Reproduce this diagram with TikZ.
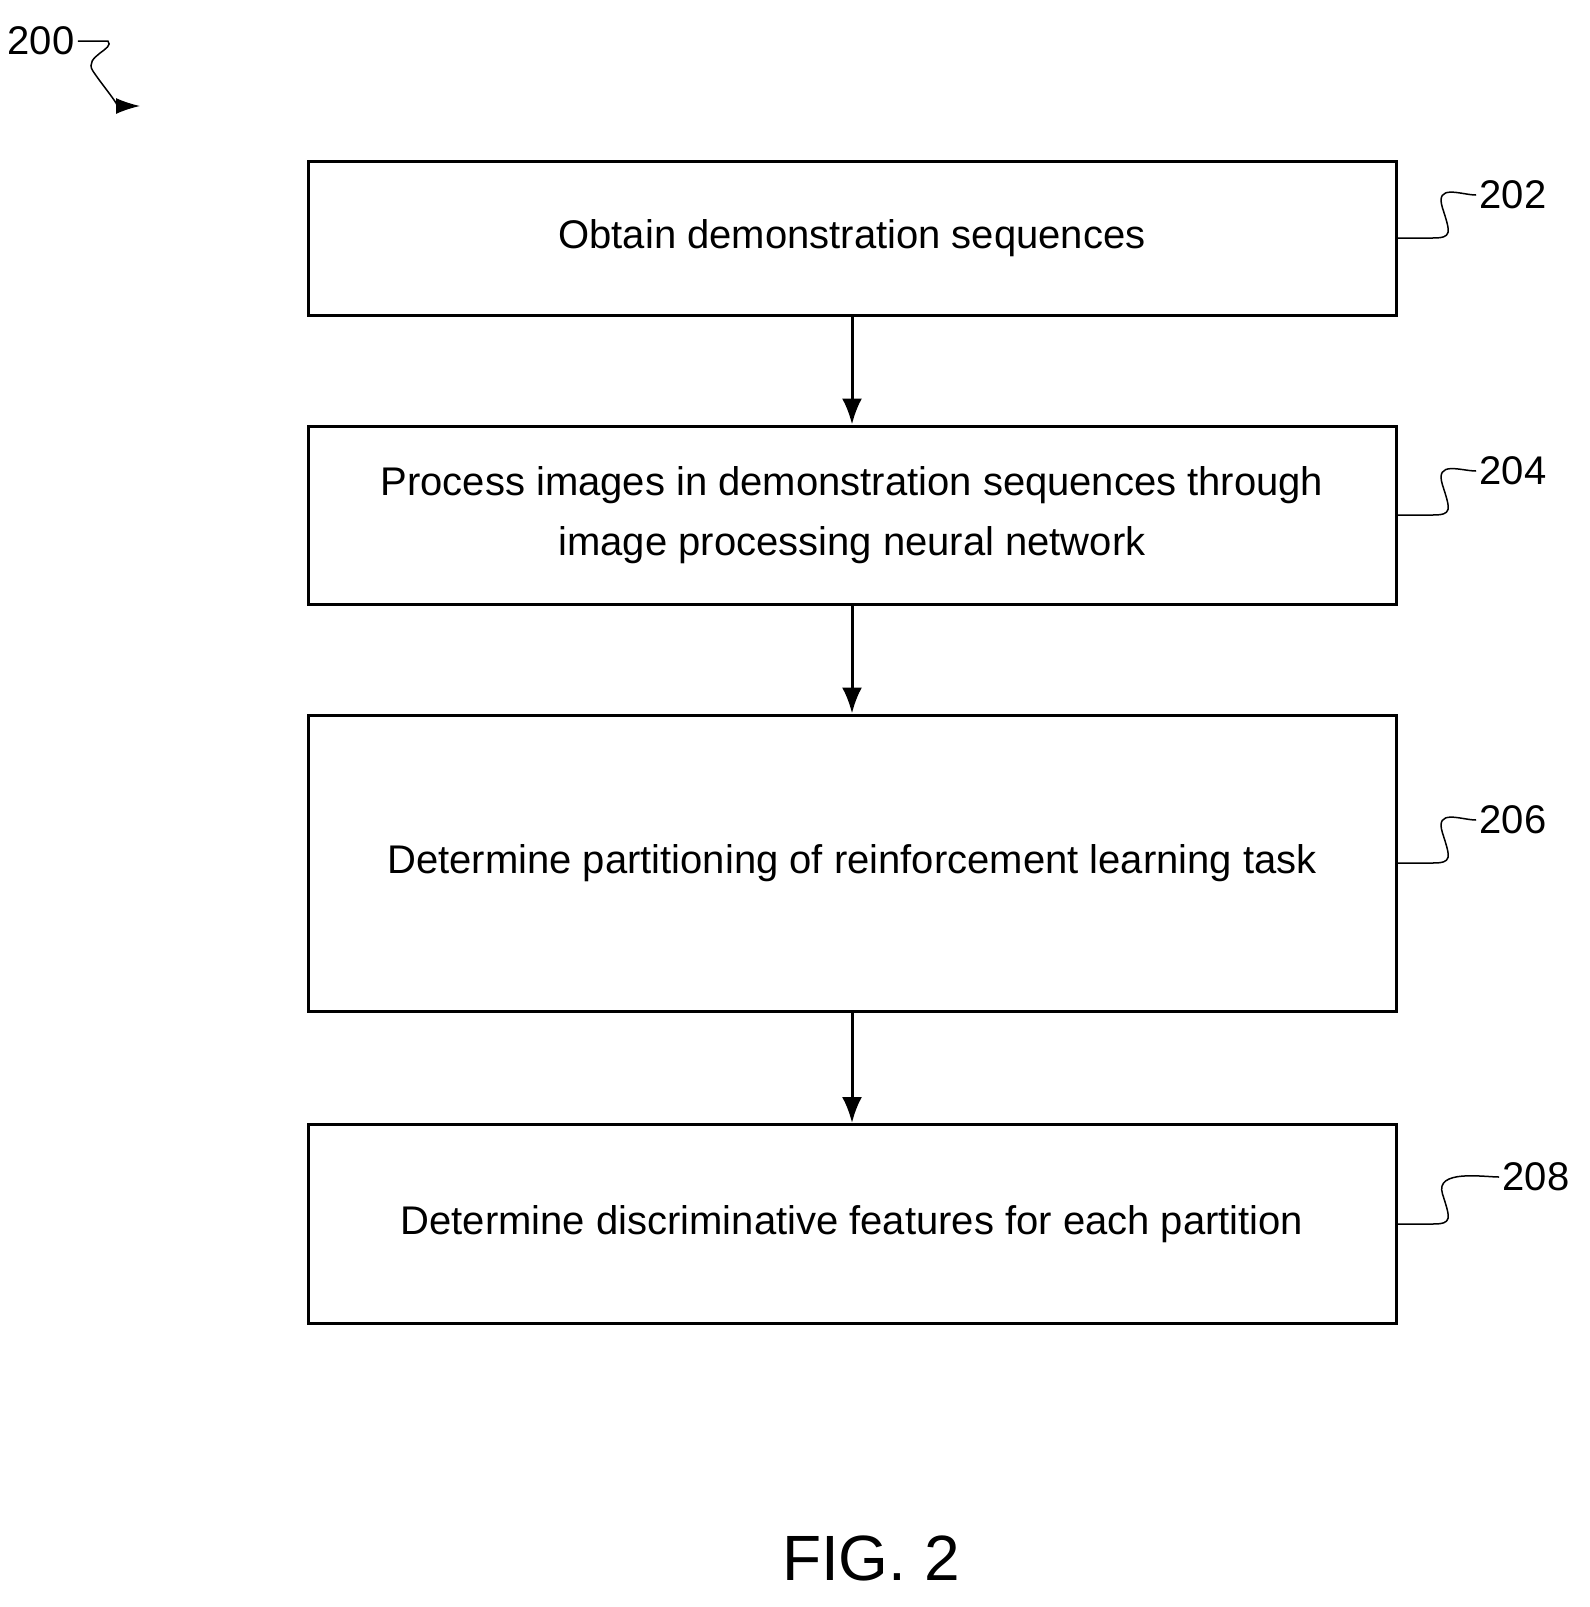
\documentclass[tikz,border=0pt]{standalone}
\usepackage{fontspec}
\setmainfont{Liberation Sans}
\usetikzlibrary{arrows.meta}
\begin{document}
\begin{tikzpicture}[x=1pt, y=-1pt,
    stage/.style={draw, line width=3pt, minimum width=1088pt, align=center,
                 font=\fontsize{40}{60}\selectfont},
    arr/.style={-{Latex[length=26pt,width=20pt]}, line width=3pt},
    tag/.style={font=\fontsize{40}{48}\selectfont},
    lead/.style={line width=1.5pt}
  ]
  \useasboundingbox (0,0) rectangle (1590,1607);
  % stages
  \node[stage, minimum height=154pt] (s202) at (852,238) {Obtain demonstration sequences};
  \node[stage, minimum height=178pt] (s204) at (852,515)
    {Process images in demonstration sequences through\\image processing neural network};
  \node[stage, minimum height=296pt] (s206) at (852,863) {Determine partitioning of reinforcement learning task};
  \node[stage, minimum height=199pt] (s208) at (852,1224) {Determine discriminative features for each partition};

  \draw[arr] (s202) -- (s204);
  \draw[arr] (s204) -- (s206);
  \draw[arr] (s206) -- (s208);

  % reference numerals
  \node[tag] (n202) at (1513,195) {202};
  \node[tag] (n204) at (1513,471) {204};
  \node[tag] (n206) at (1513,820) {206};
  \node[tag] (n208) at (1536,1177) {208};
  \foreach \s in {202,204,206,208}
    \draw[lead] (s\s.east) -- ++(35,0) .. controls +(20,0) and +(8,25) .. ++(10,-30)
      .. controls +(-8,-25) and +(-15,0) .. (n\s.west);

  \node[tag] (n200) at (41,41) {200};
  \coordinate (c200) at (140,106);
  \draw[lead, -{Latex[length=24pt,width=16pt]}] (n200.east) -- ++(30,0) .. controls +(8,8) and +(-10,-15) .. ++(-15,30)
    .. controls +(10,15) and +(-20,0) .. (c200);

  \node[font=\fontsize{64}{72}\selectfont] (fig) at (871,1558) {FIG. 2};
\end{tikzpicture}
\end{document}
